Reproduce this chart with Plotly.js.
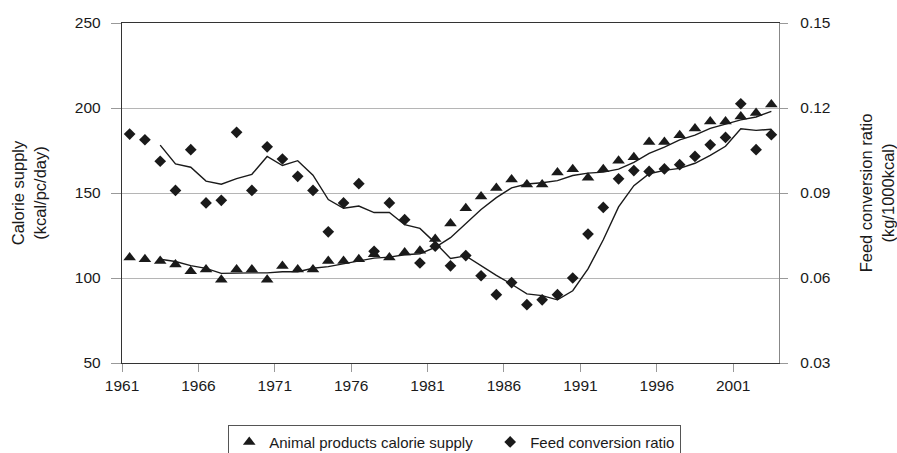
<!DOCTYPE html>
<html>
<head>
<meta charset="utf-8">
<script src="https://cdn.plot.ly/plotly-3.0.1.min.js"></script>
<style>
html,body{margin:0;padding:0;background:#fff;}
#chart{width:897px;height:453px;}
</style>
</head>
<body>
<div id="chart"></div>
<script>
// Years (categories)
var years = [1961,1962,1963,1964,1965,1966,1967,1968,1969,1970,
             1971,1972,1973,1974,1975,1976,1977,1978,1979,1980,
             1981,1982,1983,1984,1985,1986,1987,1988,1989,1990,
             1991,1992,1993,1994,1995,1996,1997,1998,1999,2000,
             2001,2002,2003];

// Animal products calorie supply (kcal/pc/day) - left axis
var calorieSupply = [112,111,110,108,104,105,99,105,105,99,
                     107,105,105,110,110,111,114,112,115,116,
                     123,132,141,148,153,158,155,155,162,164,
                     159,164,169,171,180,180,184,188,192,192,
                     195,197,202];

// 3-year moving average trend line of calorie supply
var calorieTrend = [null,null,111,109.7,107.3,105.7,102.7,103,103,103,
                    103.7,103.7,105.7,106.7,108.3,110.3,111.7,112.3,113.7,114.3,
                    118,123.7,132,140.3,147.3,153,155.3,156,157.3,160.3,
                    161.7,162.3,164,168,173.3,177,181.3,184,188,190.7,
                    193,194.7,198];

// Feed conversion ratio (kg/1000kcal) - right axis
var feedRatio = [0.1108,0.1088,0.1012,0.0909,0.1053,0.0865,0.0874,0.1114,0.0909,0.1063,
                 0.1020,0.0959,0.0909,0.0763,0.0865,0.0933,0.0694,0.0865,0.0806,0.0653,
                 0.0712,0.0643,0.0679,0.0608,0.0541,0.0584,0.0506,0.0523,0.0541,0.0600,
                 0.0755,0.0849,0.0950,0.0979,0.0976,0.0985,0.1000,0.1029,0.1070,0.1096,
                 0.1215,0.1053,0.1106];

// 3-year moving average trend line of feed conversion ratio
var feedTrend = [null,null,0.1069,0.1003,0.0991,0.0942,0.0931,0.0951,0.0966,0.1029,
                 0.0997,0.1014,0.0963,0.0877,0.0846,0.0854,0.0831,0.0831,0.0788,0.0775,
                 0.0724,0.0669,0.0678,0.0643,0.0609,0.0578,0.0544,0.0538,0.0523,0.0555,
                 0.0632,0.0735,0.0851,0.0926,0.0968,0.0980,0.0987,0.1005,0.1033,0.1065,
                 0.1127,0.1121,0.1125];

// X tick labels
var xTickLabels = ['1961','1966','1971','1976','1981','1986','1991','1996','2001'];
var xTickPos = xTickLabels.map(function(s){ return Number(s) - 0.5; });

var FONT = 'Liberation Sans, Arial, sans-serif';
var INK = '#1a1a1a';
var NB = '\u00a0\u00a0\u00a0';

var traces = [
  {
    x: years, y: calorieTrend, type: 'scatter', mode: 'lines',
    line: {color: INK, width: 1.4}, showlegend: false, hoverinfo: 'skip',
    yaxis: 'y'
  },
  {
    x: years, y: feedTrend, type: 'scatter', mode: 'lines',
    line: {color: INK, width: 1.4}, showlegend: false, hoverinfo: 'skip',
    yaxis: 'y2'
  },
  {
    x: years, y: calorieSupply, type: 'scatter', mode: 'markers',
    name: 'Animal products calorie supply' + NB,
    marker: {symbol: 'triangle-up', size: 11, color: INK},
    yaxis: 'y'
  },
  {
    x: years, y: feedRatio, type: 'scatter', mode: 'markers',
    name: 'Feed conversion ratio',
    marker: {symbol: 'diamond', size: 9, color: INK},
    yaxis: 'y2'
  }
];

var layout = {
  width: 897, height: 453,
  paper_bgcolor: '#ffffff', plot_bgcolor: '#ffffff',
  margin: {l: 122, r: 118, t: 23, b: 90, autoexpand: false},
  font: {family: FONT, color: INK, size: 15},
  showlegend: true,
  legend: {
    orientation: 'h', x: 0.1617, xanchor: 'left', y: -0.1815, yanchor: 'top',
    bordercolor: '#555', borderwidth: 1, bgcolor: '#fff',
    font: {family: FONT, size: 15, color: INK},
    traceorder: 'normal'
  },
  xaxis: {
    range: [1960.5, 2003.5],
    tickmode: 'array', tickvals: xTickPos, ticktext: xTickLabels,
    ticks: 'outside', ticklen: 8, tickcolor: '#999', tickwidth: 1,
    showline: true, linecolor: '#333', linewidth: 1.2, mirror: true,
    showgrid: false, zeroline: false,
    tickfont: {family: FONT, size: 15.5, color: INK}
  },
  yaxis: {
    range: [50, 250], tickvals: [50,100,150,200,250],
    ticks: 'outside', ticklen: 10, tickcolor: '#999', tickwidth: 1,
    showline: true, linecolor: '#333', linewidth: 1.2,
    showgrid: true, gridcolor: '#b5b5b5', gridwidth: 1, zeroline: false,
    ticklabelstandoff: 7,
    tickfont: {family: FONT, size: 15.5, color: INK},
    title: {text: 'Calorie supply<br>(kcal/pc/day)', font: {family: FONT, size: 16.5, color: INK}, standoff: 24}
  },
  yaxis2: {
    overlaying: 'y', side: 'right',
    range: [0.03, 0.15], tickvals: [0.03,0.06,0.09,0.12,0.15], tickformat: '.2f',
    ticks: 'outside', ticklen: 8, tickcolor: '#999', tickwidth: 1,
    showline: true, linecolor: '#888', linewidth: 1.2,
    showgrid: false, zeroline: false,
    ticklabelstandoff: 9,
    tickfont: {family: FONT, size: 15.5, color: INK},
    title: {text: 'Feed conversion ratio<br>(kg/1000kcal)', font: {family: FONT, size: 16.5, color: INK}, standoff: 31}
  }
};

Plotly.newPlot('chart', traces, layout, {displayModeBar: false, staticPlot: true});
</script>
</body>
</html>
